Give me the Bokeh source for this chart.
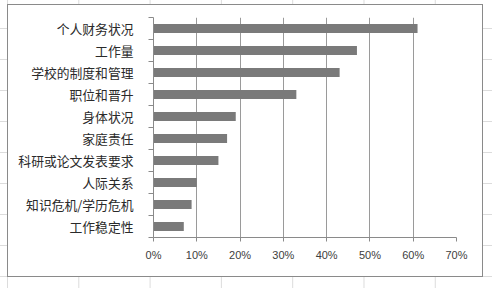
from bokeh.plotting import figure
from bokeh.models import Range1d, FixedTicker, NumeralTickFormatter, ColumnDataSource
from bokeh.embed import file_html
from bokeh.resources import INLINE

# ---- data ----
categories = ["个人财务状况", "工作量", "学校的制度和管理", "职位和晋升", "身体状况",
              "家庭责任", "科研或论文发表要求", "人际关系", "知识危机/学历危机", "工作稳定性"]
values = [0.61, 0.47, 0.43, 0.33, 0.19, 0.17, 0.15, 0.10, 0.088, 0.07]
x_ticks = [0.0, 0.1, 0.2, 0.3, 0.4, 0.5, 0.6, 0.7]

ypos = [i + 0.5 for i in range(len(categories))]
src = ColumnDataSource(dict(y=ypos, v=values, cat=categories))

W, H = 492, 288
p = figure(width=W, height=H, output_backend="svg", toolbar_location=None,
           x_range=Range1d(0, 0.7), y_range=Range1d(len(categories), 0),
           min_border_left=153, min_border_right=36, min_border_top=17, min_border_bottom=51)
p.outline_line_color = None
p.background_fill_color = "white"
p.border_fill_color = None

# ---- spreadsheet backdrop + chart-area border (pure CSS decoration) ----
grid_col = "#dcdcdc"
p.styles = {
    "background": ", ".join([
        "linear-gradient(#ffffff, #ffffff) 8px 5px / 474px 271px no-repeat",
        "linear-gradient(#8a8a8a, #8a8a8a) 7px 4px / 476px 273px no-repeat",
        f"linear-gradient(to bottom, {grid_col} 0 1px, #ffffff00 1px) 0 -3px / 100% 31px repeat-y",
        f"linear-gradient(to right, {grid_col} 0 1px, #ffffff00 1px) 7px 0 / 71.3px 100% repeat-x",
        "#ffffff",
    ])
}

# ---- bars ----
p.hbar(y="y", right="v", left=0, height=0.4, source=src,
       fill_color="#7a7a7a", line_color=None)

# ---- axes ----
ax_col = "#8a8a8a"
xa = p.xaxis[0]
xa.ticker = FixedTicker(ticks=x_ticks)
xa.formatter = NumeralTickFormatter(format="0%")
xa.axis_line_color = ax_col
xa.major_tick_line_color = ax_col
xa.major_tick_out = 4
xa.major_tick_in = 0
xa.minor_tick_line_color = None
xa.major_label_standoff = 7
xa.major_label_text_font = "Liberation Sans"
xa.major_label_text_font_size = "11px"
xa.major_label_text_color = "#404040"

ya = p.yaxis[0]
ya.ticker = FixedTicker(ticks=ypos, minor_ticks=list(range(len(categories) + 1)))
ya.major_label_overrides = {y: c for y, c in zip(ypos, categories)}
ya.axis_line_color = ax_col
ya.major_tick_line_color = None
ya.major_tick_out = 0
ya.major_tick_in = 0
ya.minor_tick_line_color = ax_col
ya.minor_tick_out = 5
ya.minor_tick_in = 0
ya.major_label_standoff = 15
ya.major_label_text_font = "Noto Sans CJK SC"
ya.major_label_text_font_size = "12.8px"
ya.major_label_text_color = "#2a2a2a"

p.xgrid.grid_line_color = "#9a9a9a"
p.ygrid.visible = False

open("out.html", "w").write(file_html(p, INLINE))
